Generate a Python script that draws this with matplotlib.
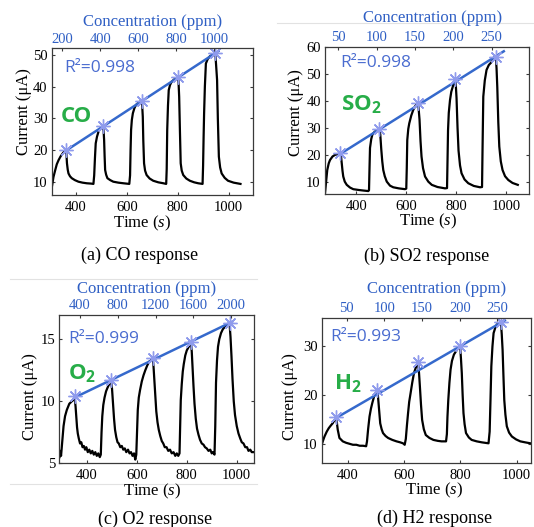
import matplotlib
matplotlib.use("Agg")
import matplotlib.pyplot as plt
from matplotlib.lines import Line2D

plt.rcParams['font.family'] = ['Liberation Serif', 'DejaVu Serif']
plt.rcParams['mathtext.fontset'] = 'custom'
plt.rcParams['mathtext.rm'] = 'Liberation Serif'
plt.rcParams['mathtext.it'] = 'Liberation Serif:italic'
plt.rcParams['mathtext.bf'] = 'Open Sans:bold'

# ---- data ----
time_ticks = [400, 600, 800, 1000]

# (a) CO
co_time = [306, 312, 319, 325, 332, 340, 349, 355, 361, 363, 365, 368, 371, 377, 384, 396, 410, 426, 443, 460, 469,
           472, 475, 478, 483, 489, 499, 506, 509, 511, 513, 515, 519, 524, 535, 547, 567, 587, 610,
           613, 615, 617, 620, 624, 630, 636, 647, 659, 661, 663, 665, 668, 672, 678, 690, 704, 724, 744, 755,
           757, 759, 762, 765, 770, 776, 788, 802, 804, 806, 809, 812, 816, 822, 834, 848, 865, 881, 898,
           900, 902, 904, 907, 911, 918, 927, 937, 948, 951, 955, 958, 962, 967, 973, 985, 998, 1020, 1047]
co_current = [8.5, 11.5, 13.7, 15.5, 16.8, 18.0, 19.0, 19.6, 20.0, 18.5, 15.8, 13.8, 12.6, 11.7, 11.1, 10.5, 10.0, 9.7, 9.5, 9.4, 9.3,
              12.0, 17.5, 22.1, 24.2, 25.8, 27.2, 27.6, 26.0, 23.2, 18.0, 13.7, 12.2, 11.1, 10.5, 10.0, 9.7, 9.5, 9.3,
              12.0, 20.0, 26.3, 29.5, 31.6, 33.2, 34.2, 35.0, 35.6, 33.5, 30.5, 23.0, 15.8, 13.5, 12.1, 11.0, 10.3, 9.8, 9.5, 9.3,
              14.0, 26.3, 34.0, 38.9, 40.5, 41.5, 42.4, 43.1, 40.5, 36.8, 26.0, 15.8, 13.5, 12.1, 11.0, 10.3, 9.8, 9.5, 9.3,
              15.0, 24.0, 31.6, 40.0, 47.3, 48.7, 49.6, 50.1, 50.5, 47.0, 42.1, 30.0, 17.9, 14.5, 12.6, 11.2, 10.3, 9.7, 9.3]
co_star_time = [361, 506, 659, 802, 948]
co_star_current = [20.0, 27.6, 35.6, 43.1, 50.5]
co_fit_time = [361, 960]
co_fit_current = [19.8, 51.2]
co_conc = [200, 400, 600, 800, 1000]
co_yticks = [10, 20, 30, 40, 50]

# (b) SO2
so2_time = [275, 280, 284, 290, 295, 305, 315, 325, 335, 339, 342, 345, 348, 354, 362, 375, 388, 410, 428, 448,
            451, 453, 455, 460, 465, 475, 485, 492, 496, 500, 504, 508, 514, 522, 535, 548, 570, 595,
            600, 602, 604, 608, 612, 620, 628, 636, 645, 649, 653, 657, 661, 667, 675, 688, 702, 725, 755,
            763, 765, 767, 770, 775, 780, 786, 795, 798, 801, 805, 809, 815, 821, 833, 848, 870, 895,
            903, 905, 908, 914, 921, 930, 942, 950, 958, 961, 964, 968, 972, 978, 985, 995, 1008, 1025, 1046]
so2_current = [5.7, 10.5, 14.3, 16.8, 18.0, 19.3, 19.9, 20.2, 20.5, 19.5, 16.8, 14.0, 11.9, 10.0, 8.8, 7.8, 7.2, 6.9, 6.7, 6.5,
               6.8, 15.0, 22.5, 25.8, 27.6, 28.6, 29.1, 29.4, 27.5, 22.0, 17.5, 14.3, 12.0, 10.0, 8.5, 7.9, 7.5, 7.2,
               7.4, 15.0, 25.4, 29.5, 31.6, 34.5, 36.6, 38.0, 39.0, 37.5, 33.0, 25.0, 19.3, 15.0, 11.9, 10.0, 8.8, 8.0, 7.5,
               7.6, 18.0, 29.0, 35.5, 40.3, 43.3, 45.2, 47.9, 46.0, 41.0, 30.0, 21.5, 16.0, 13.1, 10.8, 9.4, 8.4, 7.9,
               8.0, 22.0, 41.5, 47.5, 51.4, 53.2, 54.4, 55.5, 56.3, 52.0, 45.0, 32.0, 23.0, 17.5, 14.3, 12.0, 10.6, 9.5, 8.8]
so2_star_time = [335, 492, 645, 795, 958]
so2_star_current = [20.5, 29.4, 39.0, 47.9, 56.3]
so2_fit_time = [335, 990]
so2_fit_current = [20.2, 58.3]
so2_conc = [50, 100, 150, 200, 250]
so2_yticks = [10, 20, 30, 40, 50, 60]

# (c) O2
o2_time = [291, 294, 297, 301, 307, 313, 320, 330, 340, 346, 351,
           355, 358, 361, 364, 368, 373, 378, 383, 388, 393, 398, 404, 410, 416, 422, 428, 434, 440, 446, 452, 456,
           459, 462, 466, 471, 477, 483, 490, 497, 501, 505, 509, 513, 518, 523, 528, 534, 540, 546, 552, 558, 565,
           571, 577, 583, 589, 594, 598,
           601, 604, 608, 613, 620, 627, 634, 642, 650, 657, 664, 667, 670, 674, 678, 683, 688, 694, 700, 706, 712,
           719, 726, 733, 740, 747, 754, 760, 766, 771,
           773, 776, 780, 784, 788, 794, 800, 808, 817, 820, 823, 827, 831, 836, 841, 847, 853, 860, 867, 873, 880,
           887, 894, 900, 905, 911,
           914, 917, 921, 925, 930, 937, 944, 952, 962, 971, 975, 979, 983, 988, 993, 1000, 1007, 1014, 1020, 1027,
           1034, 1041, 1047, 1054, 1060, 1066]
o2_current = [5.5, 6.0, 5.6, 6.6, 8.0, 8.8, 9.3, 9.8, 10.0, 10.1, 10.4,
              9.6, 8.8, 7.9, 7.4, 7.0, 6.6, 6.7, 6.3, 6.4, 6.1, 6.3, 5.9, 6.1, 5.8, 6.0, 5.7, 5.9, 5.6, 5.8, 5.5, 5.7,
              7.5, 8.8, 9.7, 10.3, 10.8, 11.1, 11.4, 11.6, 11.0, 9.8, 8.6, 7.7, 7.1, 6.7, 6.6, 6.3, 6.4, 6.1, 6.2, 5.9, 6.1,
              5.8, 5.9, 5.6, 5.8, 5.3, 5.7,
              7.5, 9.3, 10.3, 10.9, 11.6, 12.1, 12.5, 12.9, 13.2, 13.3, 13.5, 12.8, 11.8, 10.4, 9.2, 8.3, 7.7, 7.2, 6.8, 6.6, 6.3,
              6.3, 6.0, 6.1, 5.8, 5.9, 5.6, 5.8, 5.6, 5.8,
              7.5, 10.1, 11.4, 12.4, 13.0, 13.7, 14.1, 14.4, 14.7, 14.0, 12.8, 11.2, 9.8, 8.6, 7.8, 7.3, 6.9, 6.6, 6.5, 6.3, 6.2,
              6.0, 6.1, 5.8, 5.9, 5.7,
              8.0, 11.5, 13.3, 14.4, 15.0, 15.5, 15.8, 16.0, 16.2, 16.3, 15.2, 13.6, 11.8, 10.0, 8.9, 8.0, 7.4, 7.0, 6.7, 6.6,
              6.3, 6.3, 6.0, 6.1, 5.9, 5.9]
o2_star_time = [351, 497, 664, 817, 971]
o2_star_current = [10.4, 11.7, 13.5, 14.8, 16.3]
o2_fit_time = [351, 980]
o2_fit_current = [10.3, 16.4]
o2_conc = [400, 800, 1200, 1600, 2000]
o2_yticks = [5, 10, 15]

# (d) H2
h2_time = [307, 312, 317, 325, 332, 340, 346, 352, 358, 361, 364, 370, 382, 394, 406, 418, 430, 442, 454, 465,
           468, 472, 477, 482, 487, 495, 504, 507, 510, 515, 520, 525, 534, 543, 558, 573, 586, 596, 602,
           606, 610, 614, 618, 623, 629, 635, 642, 650, 653, 656, 660, 664, 670, 677, 690, 704, 720, 733, 749,
           752, 754, 757, 761, 765, 770, 777, 788, 799, 802, 805, 808, 811, 815, 820, 830, 840, 858, 876, 900,
           904, 907, 910, 914, 918, 924, 930, 938, 944, 947, 950, 953, 956, 960, 965, 973, 983, 998, 1013, 1030, 1049]
h2_current = [9.8, 10.7, 11.5, 12.5, 13.2, 13.8, 14.2, 14.8, 15.3, 14.3, 12.9, 11.2, 10.5, 10.2, 10.0, 9.8, 9.8, 9.6, 9.6, 9.5,
              10.5, 13.0, 15.6, 17.2, 18.4, 20.1, 21.0, 19.8, 17.7, 14.2, 13.0, 12.2, 11.6, 11.2, 10.8, 10.5, 10.3, 10.1, 9.8,
              11.0, 13.8, 16.3, 18.6, 20.4, 22.6, 24.5, 25.7, 26.3, 24.5, 21.8, 18.0, 14.9, 13.0, 11.8, 11.2, 10.8, 10.6, 10.5, 10.5,
              12.0, 15.5, 19.0, 22.5, 25.2, 27.0, 28.3, 29.3, 30.0, 27.5, 24.5, 20.0, 16.3, 14.0, 12.2, 11.3, 10.8, 10.5, 10.3, 10.1,
              12.5, 19.0, 25.9, 30.0, 32.7, 33.8, 34.5, 34.8, 34.9, 32.5, 29.3, 24.0, 19.0, 16.0, 13.6, 12.3, 11.5, 10.9, 10.5, 10.3, 10.1]
h2_star_time = [358, 504, 650, 799, 944]
h2_star_current = [15.5, 21.1, 26.7, 30.1, 34.9]
h2_fit_time = [358, 958]
h2_fit_current = [15.3, 35.3]
h2_conc = [50, 100, 150, 200, 250]
h2_yticks = [10, 20, 30]

# ---- colours ----
TOP_BLUE = '#2f5fc4'
LINE_BLUE = '#3569cc'
STAR_BLUE = '#8f9bec'
R2_BLUE = '#4a6cd0'
GAS_GREEN = '#27ad48'
FRAME = '#3a3a3a'

W, H = 534, 527
fig = plt.figure(figsize=(W / 100, H / 100), dpi=100)


def fx(px):
    return px / W


def fy(py):
    return 1 - py / H


def panel(box, time, current, star_t, star_i, fit_t, fit_i, xlim, ylim, yticks,
          conc, conc_lim, r2, r2_pos, gas, gas_pos):
    left, top, right, bottom = box
    ax = fig.add_axes([fx(left), fy(bottom), (right - left) / W, (bottom - top) / H])
    ax.plot(time, current, color='black', lw=1.6, solid_joinstyle='round')
    ax.plot(fit_t, fit_i, color=LINE_BLUE, lw=1.8)
    ax.plot(star_t, star_i, ls='none', marker=(8, 2, 0), ms=10, mew=1.0,
            color=STAR_BLUE)
    ax.set_xlim(xlim)
    ax.set_ylim(ylim)
    ax.set_xticks(time_ticks)
    ax.set_yticks(yticks)
    ax.tick_params(direction='in', length=2.5, width=0.8, color=FRAME, labelsize=10.5,
                   right=True, pad=4)
    ax.tick_params(axis='y', pad=3)
    for s in ax.spines.values():
        s.set_color(FRAME)
        s.set_linewidth(0.9)

    # concentration scale on top
    ax2 = ax.twiny()
    ax2.set_xlim(conc_lim)
    ax2.set_xticks(conc)
    ax2.tick_params(direction='in', length=2.5, width=0.8, color=FRAME,
                    labelcolor=TOP_BLUE, labelsize=10.5, pad=2)
    for s in ax2.spines.values():
        s.set_visible(False)

    fig.text(fx(r2_pos[0]), fy(r2_pos[1]), r2, family='Open Sans', fontsize=12.5,
             color=R2_BLUE, va='center')
    fig.text(fx(gas_pos[0]), fy(gas_pos[1]), gas, family='Open Sans', fontsize=16,
             fontweight='bold', color=GAS_GREEN, va='center')
    return ax


panel((51.7, 48.3, 252.7, 195), co_time, co_current, co_star_time, co_star_current,
      co_fit_time, co_fit_current, (305, 1095), (5.8, 52.1), co_yticks,
      co_conc, (144, 1205), 'R²=0.998', (64, 68), 'CO', (61, 117))
panel((325, 46.7, 529.3, 194.3), so2_time, so2_current, so2_star_time, so2_star_current,
      so2_fit_time, so2_fit_current, (275, 1092), (5.3, 60), so2_yticks,
      so2_conc, (32.7, 298.9), 'R²=0.998', (340, 63), r'SO$_\mathbf{2}$', (341, 104))
panel((59.3, 315, 254, 463.3), o2_time, o2_current, o2_star_time, o2_star_current,
      o2_fit_time, o2_fit_current, (290, 1069), (5, 16.96), o2_yticks,
      o2_conc, (181, 2243), 'R²=0.999', (68, 339), r'O$_\mathbf{2}$', (68, 373))
panel((321.7, 318, 531, 463.3), h2_time, h2_current, h2_star_time, h2_star_current,
      h2_fit_time, h2_fit_current, (307, 1051), (6, 35.8), h2_yticks,
      h2_conc, (16.7, 294.5), 'R²=0.993', (330, 337), r'H$_\mathbf{2}$', (334, 383))

# axis titles and captions placed in pixel positions
for x, y in [(153, 21.7), (433, 18.3), (147, 289), (437, 289)]:
    fig.text(fx(x), fy(y), 'Concentration (ppm)', color=TOP_BLUE, fontsize=12,
             ha='center', va='center')
for x, y in [(142, 223), (428, 221.7), (152, 491.7), (434, 490.7)]:
    fig.text(fx(x), fy(y), 'Time ($s$)', fontsize=12, ha='center', va='center')
for x, y in [(24, 112), (296, 113), (30, 397), (290, 397)]:
    fig.text(fx(x), fy(y), 'Current (μA)', fontsize=12, rotation=90,
             ha='center', va='center')
captions = ['(a) CO response', '(b) SO2 response', '(c) O2 response', '(d) H2 response']
for txt, (x, y) in zip(captions, [(140, 255), (427, 256.7), (155, 519), (435, 518)]):
    fig.text(fx(x), fy(y), txt, fontsize=13, ha='center', va='center')

# faint scan lines from the original page
for x0, x1, y in [(277, 534, 23), (10, 257, 279), (10, 257, 484)]:
    fig.add_artist(Line2D([fx(x0), fx(x1)], [fy(y), fy(y)], color='#e2e2e2', lw=0.8))

fig.savefig('out.png', dpi=100)
